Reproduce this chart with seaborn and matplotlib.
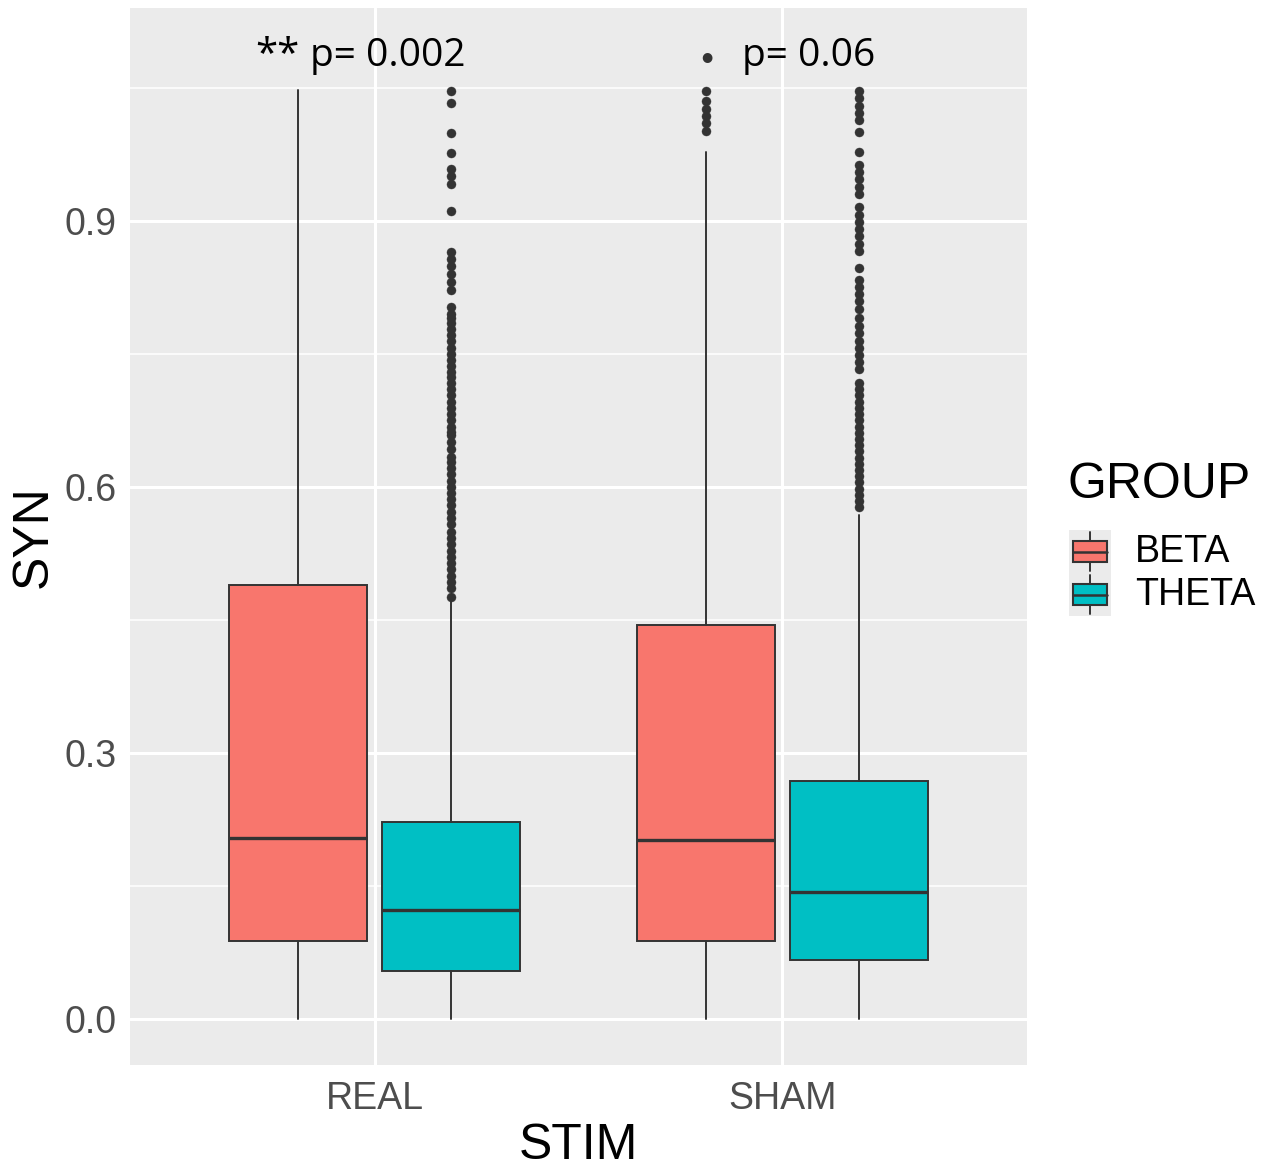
import matplotlib
matplotlib.use("Agg")
import matplotlib.pyplot as plt
import seaborn as sns
from matplotlib.patches import Rectangle

# ---- data -------------------------------------------------------------
stim_levels = ["REAL", "SHAM"]
group_levels = ["BETA", "THETA"]
group_colors = ["#F8766D", "#00BFC4"]

# summary statistics, ordered REAL-BETA, REAL-THETA, SHAM-BETA, SHAM-THETA
q1_vals = [0.088, 0.054, 0.088, 0.066]
median_vals = [0.204, 0.123, 0.202, 0.143]
q3_vals = [0.489, 0.222, 0.444, 0.268]
whisker_low = [0.0, 0.0, 0.0, 0.0]
whisker_high = [1.047, 0.474, 0.978, 0.568]

fliers_real_beta = []
fliers_real_theta = [
    1.046, 1.033, 0.999, 0.976, 0.958, 0.950, 0.942, 0.911, 0.865, 0.857,
    0.849, 0.840, 0.831, 0.822, 0.803, 0.795, 0.790, 0.785, 0.778, 0.771,
    0.764, 0.757, 0.750, 0.743, 0.736, 0.729, 0.724, 0.717, 0.710, 0.703,
    0.696, 0.689, 0.682, 0.675, 0.668, 0.662, 0.659, 0.651, 0.643, 0.634,
    0.628, 0.621, 0.614, 0.607, 0.600, 0.593, 0.586, 0.579, 0.572, 0.565,
    0.558, 0.549, 0.542, 0.535, 0.528, 0.521, 0.514, 0.507, 0.500, 0.493,
    0.486, 0.476,
]
fliers_sham_beta = [1.046, 1.035, 1.026, 1.018, 1.010, 1.001]
fliers_sham_theta = [
    1.046, 1.038, 1.030, 1.022, 1.014, 1.000, 0.978, 0.963, 0.955, 0.947,
    0.938, 0.930, 0.915, 0.907, 0.899, 0.891, 0.883, 0.874, 0.866, 0.847,
    0.833, 0.825, 0.817, 0.809, 0.800, 0.790, 0.781, 0.773, 0.765, 0.757,
    0.749, 0.741, 0.733, 0.717, 0.710, 0.703, 0.696, 0.689, 0.682, 0.675,
    0.668, 0.661, 0.654, 0.647, 0.640, 0.633, 0.626, 0.619, 0.612, 0.605,
    0.598, 0.591, 0.584, 0.577,
]
flier_sets = [fliers_real_beta, fliers_real_theta, fliers_sham_beta, fliers_sham_theta]

signif_marks = ["**", "\u2022"]
p_labels = ["p= 0.002", "p= 0.06"]

y_ticks = [0.0, 0.3, 0.6, 0.9]
y_tick_labels = ["0.0", "0.3", "0.6", "0.9"]
y_minor = [0.15, 0.45, 0.75, 1.05]

# ---- style ------------------------------------------------------------
sns.set_theme(style="darkgrid")
plt.rcParams["font.family"] = ["Liberation Sans", "DejaVu Sans"]

panel_bg = "#EBEBEB"
dark = "#333333"
tick_grey = "#4D4D4D"
note_font = ["Open Sans", "DejaVu Sans"]

fig = plt.figure(figsize=(12.76, 11.71), dpi=100)
fig.patch.set_facecolor("white")
ax = fig.add_axes([0.1019, 0.0905, 0.7030, 0.9027])
ax.set_facecolor(panel_bg)

# ---- boxes ------------------------------------------------------------
dodge = 0.1875
box_w = 0.3375
stats, positions, colors = [], [], []
k = 0
for i, s in enumerate(stim_levels):
    for j, g in enumerate(group_levels):
        stats.append(dict(
            label=f"{s}-{g}",
            q1=q1_vals[k], med=median_vals[k], q3=q3_vals[k],
            whislo=whisker_low[k], whishi=whisker_high[k],
            fliers=flier_sets[k],
        ))
        positions.append(i + 1 + (dodge if j else -dodge))
        colors.append(group_colors[j])
        k += 1

bp = ax.bxp(
    stats, positions=positions, widths=box_w, patch_artist=True,
    showcaps=False, manage_ticks=False,
    boxprops=dict(edgecolor=dark, linewidth=1.4),
    medianprops=dict(color=dark, linewidth=2.4),
    whiskerprops=dict(color=dark, linewidth=1.4),
    flierprops=dict(marker="o", markerfacecolor=dark, markeredgecolor=dark,
                    markeredgewidth=0.3, markersize=6.5),
)
for patch, c in zip(bp["boxes"], colors):
    patch.set_facecolor(c)
for artist_list in bp.values():
    for a in artist_list:
        a.set_zorder(3)

# ---- axes -------------------------------------------------------------
ax.set_xlim(0.4, 2.6)
ax.set_ylim(-0.052, 1.140)
ax.set_xticks([1, 2])
ax.set_xticklabels(stim_levels)
ax.set_yticks(y_ticks)
ax.set_yticklabels(y_tick_labels)
ax.set_yticks(y_minor, minor=True)
ax.grid(which="major", color="white", linewidth=2.2)
ax.grid(which="minor", axis="y", color="white", linewidth=1.1)
ax.set_axisbelow(True)
for sp in ax.spines.values():
    sp.set_visible(False)
ax.tick_params(axis="both", which="major", length=5.5, width=1.4, color=dark,
               labelcolor=tick_grey, labelsize=27, pad=4)
ax.tick_params(axis="both", which="minor", length=0)
ax.tick_params(axis="x", pad=6)

ax.set_xlabel("STIM", fontsize=36, color="black", labelpad=4)
ax.set_ylabel("SYN", fontsize=36, color="black", labelpad=6)

# significance annotations
ax.text(0.7066, 1.074, signif_marks[0], ha="left", va="baseline",
        fontsize=29, family=note_font, color="black")
ax.text(1.815, 1.074, signif_marks[1], ha="center", va="baseline",
        fontsize=19, family=["Lato", "DejaVu Sans"], color=dark)
for x0, lab in zip([0.8415, 1.901], p_labels):
    ax.text(x0, 1.074, lab, ha="left", va="baseline",
            fontsize=28, family=note_font, color="black")

# ---- legend -----------------------------------------------------------
fig.text(1068 / 1276, 1 - 485 / 1171, "GROUP", fontsize=36, va="center",
         ha="left", color="black")
key_tops = [530, 573]
for g, c, top in zip(group_levels, group_colors, key_tops):
    kax = fig.add_axes([1069 / 1276, 1 - (top + 43) / 1171, 42 / 1276, 43 / 1171])
    kax.set_xlim(0, 1)
    kax.set_ylim(0, 1)
    kax.axis("off")
    kax.add_patch(Rectangle((0, 0), 1, 1, facecolor=panel_bg, edgecolor="none"))
    kax.plot([0.5, 0.5], [0.05, 0.95], color=dark, lw=1.4)
    kax.add_patch(Rectangle((0.1, 0.25), 0.8, 0.5, facecolor=c, edgecolor=dark, lw=1.5, zorder=3))
    kax.plot([0.1, 0.9], [0.5, 0.5], color=dark, lw=1.8, zorder=4)
    fig.text(1135 / 1276, 1 - (top + 22) / 1171, g, fontsize=27, va="center",
             ha="left", color="black")

fig.savefig("out.png", dpi=100)
